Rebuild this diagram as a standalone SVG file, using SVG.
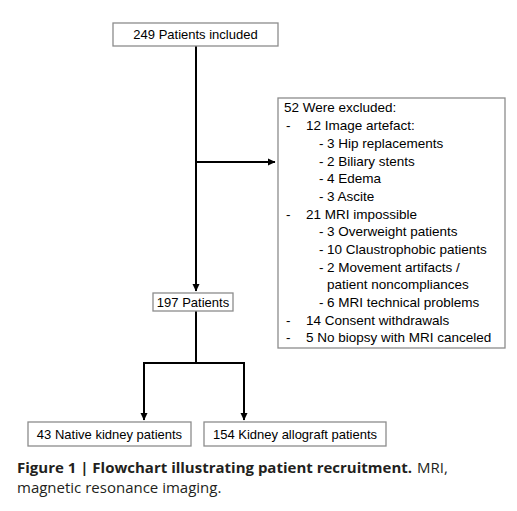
<svg xmlns="http://www.w3.org/2000/svg" width="517" height="511" viewBox="0 0 517 511">
<style>
.box{fill:#fff;stroke:#8c8c8c;stroke-width:1.3}
.t{font-family:"Liberation Sans",Arial,sans-serif;font-size:13px;fill:#000}
.ex{font-size:13.5px}
.c{text-anchor:middle}
.ln{fill:none;stroke:#000;stroke-width:2}
.cap{font-family:"Open Sans",sans-serif;font-size:15px;fill:#231f20}
</style>
<defs>
<marker id="ah" markerWidth="8" markerHeight="8" refX="7" refY="4" orient="auto" markerUnits="userSpaceOnUse">
<path d="M0,0.5 L7.5,4 L0,7.5 Z" fill="#000"/>
</marker>
</defs>
<rect width="517" height="511" fill="#fff"/>
<g id="connectors">
<line class="ln" x1="196" y1="46" x2="196" y2="291" marker-end="url(#ah)"/>
<line class="ln" x1="196" y1="162" x2="275" y2="162" marker-end="url(#ah)"/>
<polyline class="ln" points="196,311 196,363 144,363 144,420" marker-end="url(#ah)"/>
<polyline class="ln" points="196,363 244,363 244,420" marker-end="url(#ah)"/>
</g>
<g id="n1">
<rect class="box" x="113" y="23" width="165" height="23"/>
<text class="t c" x="195.5" y="39">249 Patients included</text>
</g>
<g id="n2">
<rect class="box" x="278" y="98" width="227" height="250"/>
<g class="t ex">
<text x="284" y="112">52 Were excluded:</text>
<text x="286" y="130">-</text><text x="306" y="130">12 Image artefact:</text>
<text x="319" y="148">-</text><text x="327" y="148">3 Hip replacements</text>
<text x="319" y="166">-</text><text x="327" y="166">2 Biliary stents</text>
<text x="319" y="183">-</text><text x="327" y="183">4 Edema</text>
<text x="319" y="201">-</text><text x="327" y="201">3 Ascite</text>
<text x="286" y="219">-</text><text x="306" y="219">21 MRI impossible</text>
<text x="319" y="236">-</text><text x="327" y="236">3 Overweight patients</text>
<text x="319" y="254">-</text><text x="327" y="254">10 Claustrophobic patients</text>
<text x="319" y="272">-</text><text x="327" y="272">2 Movement artifacts /</text>
<text x="327" y="289">patient noncompliances</text>
<text x="319" y="307">-</text><text x="327" y="307">6 MRI technical problems</text>
<text x="286" y="325">-</text><text x="306" y="325">14 Consent withdrawals</text>
<text x="286" y="342">-</text><text x="306" y="342">5 No biopsy with MRI canceled</text>
</g>
</g>
<g id="n3">
<rect class="box" x="153" y="293" width="80" height="18"/>
<text class="t c" x="193" y="307">197 Patients</text>
</g>
<g id="n4">
<rect class="box" x="28" y="422" width="163" height="24"/>
<text class="t c" x="109.5" y="439">43 Native kidney patients</text>
</g>
<g id="n5">
<rect class="box" x="204" y="422" width="182" height="24"/>
<text class="t c" x="295" y="439">154 Kidney allograft patients</text>
</g>
<g id="caption">
<text class="cap" x="17" y="472.5" font-weight="bold">Figure 1 | Flowchart illustrating patient recruitment.</text>
<text class="cap" x="417" y="472.5">MRI,</text>
<text class="cap" x="17" y="493" font-size="15.5px">magnetic resonance imaging.</text>
</g>
</svg>
